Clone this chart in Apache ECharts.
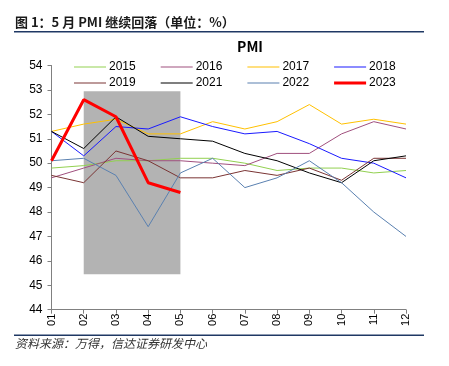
<!DOCTYPE html>
<html>
<head>
<meta charset="utf-8">
<script src="https://cdn.jsdelivr.net/npm/echarts@6/dist/echarts.min.js"></script>
<style>
  html, body { margin: 0; padding: 0; background: #fff; }
  #chart { width: 449px; height: 366px; }
</style>
</head>
<body>
<div id="chart"></div>
<script>
// months on the x axis
const months = ['01', '02', '03', '04', '05', '06', '07', '08', '09', '10', '11', '12'];

// PMI by year
const pmi2015 = [49.8, 49.9, 50.1, 50.1, 50.2, 50.2, 50.0, 49.7, 49.8, 49.8, 49.6, 49.7];
const pmi2016 = [49.4, 49.8, 50.2, 50.1, 50.1, 50.0, 49.9, 50.4, 50.4, 51.2, 51.7, 51.4];
const pmi2017 = [51.3, 51.6, 51.8, 51.2, 51.2, 51.7, 51.4, 51.7, 52.4, 51.6, 51.8, 51.6];
const pmi2018 = [51.3, 50.3, 51.5, 51.4, 51.9, 51.5, 51.2, 51.3, 50.8, 50.2, 50.0, 49.4];
const pmi2019 = [49.5, 49.2, 50.5, 50.1, 49.4, 49.4, 49.7, 49.5, 49.8, 49.3, 50.2, 50.2];
const pmi2021 = [51.3, 50.6, 51.9, 51.1, 51.0, 50.9, 50.4, 50.1, 49.6, 49.2, 50.1, 50.3];
const pmi2022 = [50.1, 50.2, 49.5, 47.4, 49.6, 50.2, 49.0, 49.4, 50.1, 49.2, 48.0, 47.0];
const pmi2023 = [50.1, 52.6, 51.9, 49.2, 48.8];

// shaded window (Feb to May)
const shadeMonths = ['02', '05'];
const shadeRange = [45.45, 52.95];

const yTicks = { min: 44, max: 54, interval: 1 };

const lines = [
  { name: '2015', data: pmi2015, color: '#92d050', width: 1 },
  { name: '2016', data: pmi2016, color: '#a0507e', width: 1 },
  { name: '2017', data: pmi2017, color: '#ffc000', width: 1 },
  { name: '2018', data: pmi2018, color: '#1a1aff', width: 1 },
  { name: '2019', data: pmi2019, color: '#7a3434', width: 1 },
  { name: '2021', data: pmi2021, color: '#000000', width: 1 },
  { name: '2022', data: pmi2022, color: '#5a80b0', width: 1 },
  { name: '2023', data: pmi2023, color: '#ff0000', width: 3 }
];

const chart = echarts.init(document.getElementById('chart'));

// flat bar icon, as thick as the series line
function legendItems(names) {
  return names.map(function (n) {
    const l = lines.find(function (x) { return x.name === n; });
    const h = l.width;
    return { name: n, icon: 'path://M0,0L32,0L32,' + h + 'L0,' + h + 'Z' };
  });
}

const legendBase = {
  left: 69,
  itemWidth: 32,
  itemHeight: 10,
  itemGap: 25,
  textStyle: { fontFamily: 'Liberation Sans', fontSize: 12, color: '#000', padding: [0, 0, 0, -2] }
};

const series = [{
  type: 'line',
  name: 'shade',
  data: [],
  z: 1,
  silent: true,
  markArea: {
    silent: true,
    itemStyle: { color: '#b3b3b3', opacity: 1 },
    data: [[
      { coord: [shadeMonths[0], shadeRange[0]] },
      { coord: [shadeMonths[1], shadeRange[1]] }
    ]]
  }
}].concat(lines.map(function (l) {
  return {
    type: 'line',
    name: l.name,
    data: l.data,
    symbol: 'none',
    z: 3,
    color: l.color,
    lineStyle: { color: l.color, width: l.width }
  };
}));

chart.setOption({
  animation: false,
  grid: { left: 51.5, right: 43, top: 65.5, bottom: 56.3 },
  legend: [
    Object.assign({ top: 56, data: legendItems(['2015', '2016', '2017', '2018']) }, legendBase),
    Object.assign({ top: 72, data: legendItems(['2019', '2021', '2022', '2023']) }, legendBase)
  ],
  xAxis: {
    type: 'category',
    data: months,
    boundaryGap: false,
    axisLine: { lineStyle: { color: '#808080' } },
    axisTick: { show: true, alignWithLabel: true, length: 4, lineStyle: { color: '#808080' } },
    axisLabel: {
      rotate: 90,
      margin: 4,
      fontFamily: 'Liberation Sans',
      fontSize: 11,
      color: '#000'
    }
  },
  yAxis: {
    type: 'value',
    min: yTicks.min,
    max: yTicks.max,
    interval: yTicks.interval,
    splitLine: { show: false },
    axisLine: { show: true, lineStyle: { color: '#808080' } },
    axisTick: { show: true, length: 4, lineStyle: { color: '#808080' } },
    axisLabel: { margin: 9, fontFamily: 'Liberation Sans', fontSize: 12, color: '#000' }
  },
  graphic: [
    {
      type: 'text', left: 15, top: 16,
      style: {
        text: '图 1：5 月 PMI 继续回落（单位：%）',
        font: 'bold 13px "Noto Sans CJK SC"', fill: '#1a1a1a'
      }
    },
    { type: 'rect', shape: { x: 14, y: 31, width: 410, height: 1.5 }, style: { fill: '#1f3864' } },
    {
      type: 'text', x: 250, y: 47,
      style: {
        text: 'PMI', font: 'bold 14px "Noto Sans CJK SC"', fill: '#000',
        textAlign: 'center', textVerticalAlign: 'middle'
      }
    },
    { type: 'rect', shape: { x: 14, y: 334.5, width: 410, height: 1.5 }, style: { fill: '#1f3864' } },
    {
      type: 'text', left: 15, top: 337,
      style: {
        text: '资料来源：万得，信达证券研发中心',
        font: 'italic 12px "Noto Sans CJK SC"', fill: '#333'
      }
    }
  ],
  series: series
});
</script>
</body>
</html>
